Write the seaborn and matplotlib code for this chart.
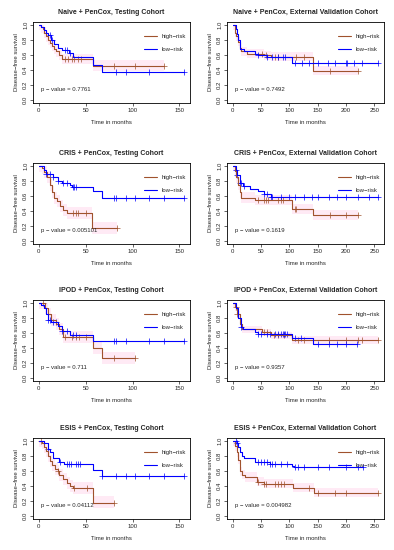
import numpy as np
import pandas as pd
import seaborn as sns
import matplotlib.pyplot as plt

# panel titles and p-values (row by row, left = testing, right = external validation)
titles = ["Naive + PenCox, Testing Cohort", "Naive + PenCox, External Validation Cohort",
          "CRIS + PenCox, Testing Cohort", "CRIS + PenCox, External Validation Cohort",
          "IPOD + PenCox, Testing Cohort", "IPOD + PenCox, External Validation Cohort",
          "ESIS + PenCox, Testing Cohort", "ESIS + PenCox, External Validation Cohort"]
pvals = ["0.7761", "0.7492", "0.005101", "0.1619", "0.711", "0.9357", "0.04112", "0.004982"]

# --- Kaplan-Meier step data: event times (t), survival after step (s), censor times
naive_test_high_t = [0, 2, 4, 6, 8, 10, 12, 14, 16, 18, 21, 25, 58]
naive_test_high_s = [1.0, 0.97, 0.95, 0.90, 0.85, 0.80, 0.76, 0.72, 0.68, 0.65, 0.60, 0.55, 0.46]
naive_test_high_c = [28, 31, 35, 38, 42, 45, 80, 103, 134]
naive_test_low_t = [0, 2, 5, 8, 10, 13, 16, 20, 25, 32, 36, 58, 67]
naive_test_low_s = [1.0, 0.97, 0.93, 0.90, 0.87, 0.80, 0.75, 0.70, 0.67, 0.63, 0.57, 0.47, 0.38]
naive_test_low_c = [12, 14, 28, 30, 33, 82, 93, 117, 155]

naive_val_high_t = [0, 3, 6, 9, 12, 15, 25, 55, 68, 142]
naive_val_high_s = [1.0, 0.90, 0.85, 0.78, 0.70, 0.65, 0.62, 0.60, 0.58, 0.39]
naive_val_high_c = [52, 58, 75, 80, 112, 125, 172, 222]
naive_val_low_t = [0, 5, 8, 10, 13, 20, 40, 45, 60, 75, 105]
naive_val_low_s = [1.0, 0.95, 0.88, 0.80, 0.68, 0.65, 0.62, 0.60, 0.58, 0.57, 0.50]
naive_val_low_c = [45, 60, 70, 80, 88, 92, 110, 122, 135, 150, 168, 180, 200, 202, 215, 228, 257]

cris_test_high_t = [0, 3, 6, 9, 12, 14, 16, 19, 23, 26, 30, 57]
cris_test_high_s = [1.0, 0.97, 0.92, 0.85, 0.75, 0.65, 0.58, 0.54, 0.47, 0.41, 0.37, 0.18]
cris_test_high_c = [36, 40, 42, 50, 83]
cris_test_low_t = [0, 5, 8, 15, 20, 25, 33, 35, 58, 67]
cris_test_low_s = [1.0, 0.95, 0.90, 0.85, 0.80, 0.77, 0.75, 0.72, 0.67, 0.57]
cris_test_low_c = [8, 12, 15, 20, 26, 30, 36, 38, 40, 80, 82, 93, 103, 117, 134, 155]

cris_val_high_t = [0, 3, 6, 9, 12, 15, 40, 105, 142]
cris_val_high_s = [1.0, 0.93, 0.85, 0.75, 0.65, 0.58, 0.55, 0.43, 0.35]
cris_val_high_c = [45, 55, 58, 62, 80, 85, 88, 110, 112, 172, 200, 222]
cris_val_low_t = [0, 5, 8, 12, 18, 30, 45, 55, 68]
cris_val_low_s = [1.0, 0.95, 0.88, 0.78, 0.73, 0.70, 0.67, 0.63, 0.59]
cris_val_low_c = [5, 8, 12, 15, 20, 55, 60, 68, 70, 85, 100, 110, 125, 140, 150, 170,
                  185, 200, 222, 240, 257]

ipod_test_high_t = [0, 7, 10, 13, 18, 22, 26, 58, 67]
ipod_test_high_s = [1.0, 0.93, 0.85, 0.78, 0.72, 0.65, 0.55, 0.40, 0.27]
ipod_test_high_c = [4, 28, 35, 40, 43, 50, 80, 103]
ipod_test_low_t = [0, 2, 5, 8, 10, 13, 20, 25, 33, 58]
ipod_test_low_s = [1.0, 0.97, 0.93, 0.85, 0.78, 0.75, 0.70, 0.63, 0.57, 0.50]
ipod_test_low_c = [10, 12, 15, 18, 25, 30, 36, 40, 80, 82, 93, 117, 134, 155]

ipod_val_high_t = [0, 3, 8, 12, 17, 52, 68, 105]
ipod_val_high_s = [1.0, 0.95, 0.85, 0.72, 0.65, 0.61, 0.57, 0.51]
ipod_val_high_c = [5, 8, 55, 60, 72, 80, 90, 115, 125, 170, 200, 222, 228, 257]
ipod_val_low_t = [0, 5, 10, 15, 18, 40, 45, 105, 142]
ipod_val_low_s = [1.0, 0.93, 0.80, 0.68, 0.66, 0.62, 0.59, 0.53, 0.46]
ipod_val_low_c = [15, 45, 50, 60, 65, 75, 80, 85, 88, 90, 92, 95, 110, 120, 150, 170, 185, 200, 220]

esis_test_high_t = [0, 3, 5, 8, 10, 12, 14, 17, 20, 22, 26, 30, 33, 36, 58]
esis_test_high_s = [1.0, 0.97, 0.92, 0.87, 0.80, 0.73, 0.68, 0.63, 0.60, 0.55, 0.50, 0.44, 0.40,
                    0.37, 0.18]
esis_test_high_c = [2, 20, 37, 51, 80]
esis_test_low_t = [0, 5, 10, 12, 15, 22, 27, 58, 67]
esis_test_low_s = [1.0, 0.97, 0.90, 0.85, 0.78, 0.72, 0.69, 0.62, 0.54]
esis_test_low_c = [10, 23, 30, 32, 34, 40, 42, 44, 67, 82, 93, 103, 117, 134, 155]

esis_val_high_t = [0, 3, 7, 10, 13, 17, 22, 42, 55, 107, 143]
esis_val_high_s = [1.0, 0.93, 0.85, 0.75, 0.60, 0.55, 0.52, 0.46, 0.43, 0.38, 0.31]
esis_val_high_c = [45, 55, 58, 75, 80, 85, 90, 135, 150, 180, 200, 257]
esis_val_low_t = [0, 8, 10, 13, 17, 20, 40, 65, 105, 108]
esis_val_low_s = [1.0, 0.97, 0.92, 0.85, 0.80, 0.77, 0.72, 0.70, 0.67, 0.65]
esis_val_low_c = [5, 8, 45, 50, 55, 60, 65, 70, 75, 85, 95, 110, 115, 125, 150, 170, 200, 222, 230]

# half-width of the pink confidence band around the high-risk curve (read by eye)
band_hw = [0.07, 0.06, 0.08, 0.07, 0.08, 0.05, 0.08, 0.06]

panels = [
    (naive_test_high_t, naive_test_high_s, naive_test_high_c, naive_test_low_t, naive_test_low_s, naive_test_low_c),
    (naive_val_high_t, naive_val_high_s, naive_val_high_c, naive_val_low_t, naive_val_low_s, naive_val_low_c),
    (cris_test_high_t, cris_test_high_s, cris_test_high_c, cris_test_low_t, cris_test_low_s, cris_test_low_c),
    (cris_val_high_t, cris_val_high_s, cris_val_high_c, cris_val_low_t, cris_val_low_s, cris_val_low_c),
    (ipod_test_high_t, ipod_test_high_s, ipod_test_high_c, ipod_test_low_t, ipod_test_low_s, ipod_test_low_c),
    (ipod_val_high_t, ipod_val_high_s, ipod_val_high_c, ipod_val_low_t, ipod_val_low_s, ipod_val_low_c),
    (esis_test_high_t, esis_test_high_s, esis_test_high_c, esis_test_low_t, esis_test_low_s, esis_test_low_c),
    (esis_val_high_t, esis_val_high_s, esis_val_high_c, esis_val_low_t, esis_val_low_s, esis_val_low_c),
]

HIGH = "#A0522D"
LOW = "#0000FF"
BAND = "#FFD9EE"

sns.set_style("white")
plt.rcParams['font.family'] = ['Liberation Sans', 'DejaVu Sans']
plt.rcParams['axes.linewidth'] = 0.6


def curve_df(t, s, cens):
    end = max(max(t), max(cens))
    x = list(t) + [end]
    y = list(s) + [s[-1]]
    return pd.DataFrame({"time": x, "surv": y})


def censor_df(t, s, cens):
    idx = np.searchsorted(t, cens, side="right") - 1
    return pd.DataFrame({"time": cens, "surv": np.array(s)[idx]})


fig = plt.figure(figsize=(3.94, 5.5), dpi=100)
W, H = 394, 550
tops = [22, 163, 300, 438]
lefts = [33, 227]
aw, ah = 157, 81

for i, (ht, hs, hc, lt, ls, lc) in enumerate(panels):
    r, c = divmod(i, 2)
    ax = fig.add_axes([lefts[c] / W, 1 - (tops[r] + ah) / H, aw / W, ah / H])

    hd = curve_df(ht, hs, hc)
    ld = curve_df(lt, ls, lc)
    ax.fill_between(hd["time"], np.clip(hd["surv"] - band_hw[i], 0, 1),
                    np.clip(hd["surv"] + band_hw[i], 0, 1), step="post",
                    color=BAND, alpha=0.55, lw=0)

    sns.lineplot(data=hd, x="time", y="surv", drawstyle="steps-post", sort=False,
                 estimator=None, color=HIGH, lw=0.8, label="high\u2212risk", ax=ax)
    sns.lineplot(data=ld, x="time", y="surv", drawstyle="steps-post", sort=False,
                 estimator=None, color=LOW, lw=0.8, label="low\u2212risk", ax=ax)
    sns.scatterplot(data=censor_df(ht, hs, hc), x="time", y="surv", marker="+",
                    color=HIGH, s=14, linewidth=0.5, ax=ax)
    sns.scatterplot(data=censor_df(lt, ls, lc), x="time", y="surv", marker="+",
                    color=LOW, s=14, linewidth=0.5, ax=ax)

    xmax = 155 if c == 0 else 257
    ax.set_xlim(-0.04 * xmax, 1.04 * xmax)
    ax.set_ylim(-0.04, 1.04)
    ax.set_xticks([0, 50, 100, 150] if c == 0 else [0, 50, 100, 150, 200, 250])
    ax.set_yticks([0.0, 0.2, 0.4, 0.6, 0.8, 1.0])
    ax.set_yticklabels(["0.0", "0.2", "0.4", "0.6", "0.8", "1.0"], rotation=90, va="center")
    ax.tick_params(axis="both", labelsize=4.3, length=2, width=0.5, pad=1.5,
                   direction="out", bottom=True, left=True)
    for sp in ax.spines.values():
        sp.set_color("black")
        sp.set_linewidth(0.6)
    ax.set_xlabel("Time in months", fontsize=4.3, labelpad=5)
    ax.set_ylabel("Disease\u2212free survival", fontsize=4.3, labelpad=3)
    ax.set_title(titles[i], fontsize=5, fontweight="bold", pad=6)
    ax.text(0.05, 0.17, "p \u2212 value = " + pvals[i], transform=ax.transAxes,
            fontsize=4.3, va="center")
    ax.legend(loc="upper right", bbox_to_anchor=(0.99, 0.88), frameon=False,
              fontsize=4.3, handlelength=2.2, labelspacing=1.2, borderaxespad=0)

fig.savefig("out.png", dpi=100)
